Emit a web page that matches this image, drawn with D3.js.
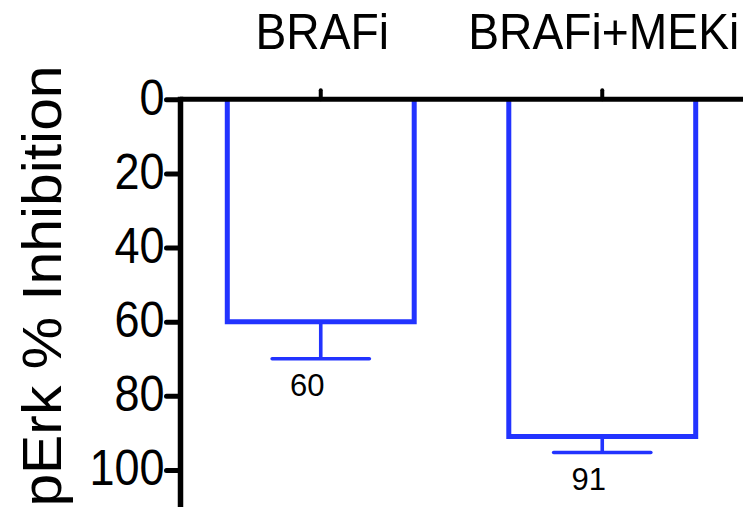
<!DOCTYPE html>
<html>
<head>
<meta charset="utf-8">
<script src="https://cdn.jsdelivr.net/npm/d3@7"></script>
<style>
  html, body { margin: 0; padding: 0; background: #fff; }
  svg { display: block; }
  text { font-family: "Liberation Sans", Arial, sans-serif; fill: #000; }
</style>
</head>
<body>
<svg id="chart" width="743" height="518"></svg>
<script>
// Treatment groups and pErk inhibition (mean and error)
const categories = ["BRAFi", "BRAFi+MEKi"];
const inhibition = [60, 91];
const errors = [10, 4.3];
const yTicks = [0, 20, 40, 60, 80, 100];
const yTitle = "pErk % Inhibition";

const blue = "#2233ff";
const svg = d3.select("#chart");

const x = d3.scaleBand()
  .domain(categories)
  .range([180, 743])
  .paddingInner(0.336)
  .paddingOuter(0.168);

// inverted axis: 0 at the top, inhibition grows downward
const y = d3.scaleLinear().domain([0, 110]).range([99.3, 507]);

// bars (open, outlined, hanging from the top axis)
const bars = svg.append("g");
categories.forEach((c, i) => {
  const x0 = x(c), x1 = x(c) + x.bandwidth();
  const p = d3.path();
  p.moveTo(x0, y(0));
  p.lineTo(x0, y(inhibition[i]));
  p.lineTo(x1, y(inhibition[i]));
  p.lineTo(x1, y(0));
  bars.append("path")
    .attr("d", p.toString())
    .attr("fill", "none")
    .attr("stroke", blue)
    .attr("stroke-width", 5)
    .attr("stroke-linejoin", "miter");
});

// error bars (one-sided, downward)
const err = svg.append("g").attr("stroke", blue).attr("stroke-width", 3.6);
categories.forEach((c, i) => {
  const cx = x(c) + x.bandwidth() / 2;
  const half = x.bandwidth() * 0.26;
  err.append("line")
    .attr("x1", cx).attr("x2", cx)
    .attr("y1", y(inhibition[i])).attr("y2", y(inhibition[i] + errors[i]));
  err.append("line")
    .attr("x1", cx - half).attr("x2", cx + half)
    .attr("y1", y(inhibition[i] + errors[i])).attr("y2", y(inhibition[i] + errors[i]))
    .attr("stroke-linecap", "round");
});

// value labels under the error bars
categories.forEach((c, i) => {
  const cx = x(c) + x.bandwidth() / 2;
  svg.append("text")
    .attr("x", cx - 13.5)
    .attr("y", y(inhibition[i] + errors[i]) + 37)
    .attr("text-anchor", "middle")
    .attr("font-size", 31)
    .text(inhibition[i]);
});

// top category axis
const xAxis = svg.append("g")
  .attr("transform", `translate(0,${y(0)})`)
  .call(d3.axisTop(x).tickSize(9).tickSizeOuter(0));
xAxis.select(".domain").attr("stroke-width", 5).attr("d", `M180,0H743`);
xAxis.selectAll(".tick line").attr("stroke-width", 4).attr("stroke-linecap", "round");
xAxis.selectAll(".tick text")
  .attr("font-size", 50)
  .attr("font-family", "Liberation Sans, Arial, sans-serif")
  .attr("fill", "#000")
  .attr("y", null)
  .attr("dy", null)
  .attr("transform", `translate(1.5,${49 - y(0)}) scale(0.925,1)`);

// left value axis
const yAxis = svg.append("g")
  .attr("transform", "translate(180.5,0)")
  .call(d3.axisLeft(y).tickValues(yTicks).tickSize(14).tickSizeOuter(0).tickPadding(0));
yAxis.select(".domain").attr("stroke-width", 5.5).attr("d", `M0,${y(0) - 2.5}V${y(110)}`);
yAxis.selectAll(".tick line").attr("stroke-width", 5).attr("stroke-linecap", "round");
yAxis.selectAll(".tick text")
  .attr("font-size", 50)
  .attr("font-family", "Liberation Sans, Arial, sans-serif")
  .attr("fill", "#000")
  .attr("dy", "0.3em")
  .attr("x", 0)
  .attr("transform", "translate(-16,0) scale(0.9,1)");

// axis title
svg.append("text")
  .attr("transform", "translate(61,286) rotate(-90) scale(1.05,1)")
  .attr("text-anchor", "middle")
  .attr("font-size", 56)
  .text(yTitle);
</script>
</body>
</html>
